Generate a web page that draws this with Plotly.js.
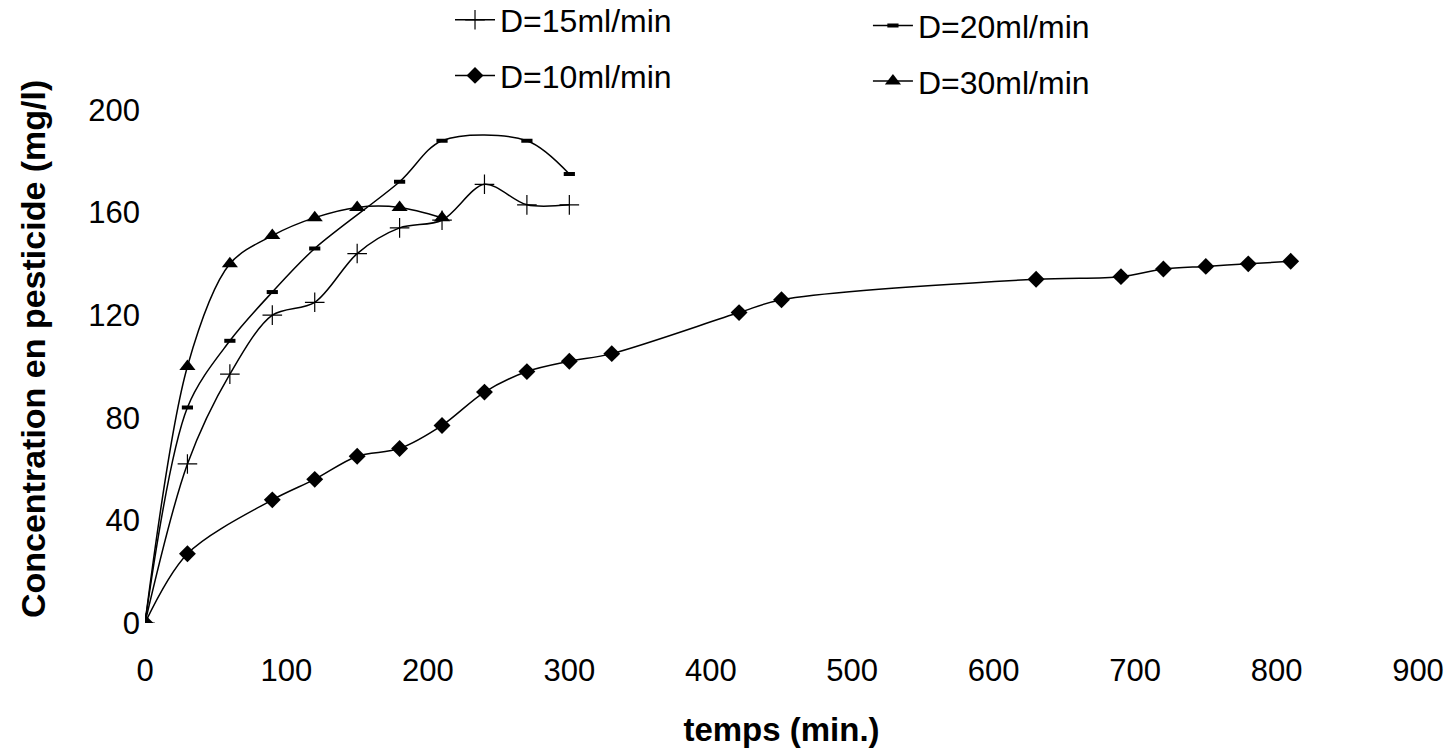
<!DOCTYPE html>
<html>
<head>
<meta charset="utf-8">
<script src="https://cdn.plot.ly/plotly-3.0.1.min.js"></script>
<style>
  html, body { margin: 0; padding: 0; background: #ffffff; }
  #chart { width: 1451px; height: 751px; }
</style>
</head>
<body>
<div id="chart"></div>
<script>
// Temps de prélèvement (min) et concentrations mesurées (mg/l) pour chaque débit
const t15 = [0, 30, 60, 90, 120, 150, 180, 210, 240, 270, 300];
const c15 = [0, 62, 97, 120, 125, 144, 154, 157, 171, 163, 163];

const t20 = [0, 30, 60, 90, 120, 180, 210, 270, 300];
const c20 = [0, 84, 110, 129, 146, 172, 188, 188, 175];

const t10 = [0, 30, 90, 120, 150, 180, 210, 240, 270, 300, 330, 420, 450, 630, 690, 720, 750, 780, 810];
const c10 = [0, 27, 48, 56, 65, 68, 77, 90, 98, 102, 105, 121, 126, 134, 135, 138, 139, 140, 141];

const t30 = [0, 30, 60, 90, 120, 150, 180, 210];
const c30 = [0, 100, 140, 151, 158, 162, 162, 158];

const names = ['D=15ml/min', 'D=20ml/min', 'D=10ml/min', 'D=30ml/min'];
const xTicks = [0, 100, 200, 300, 400, 500, 600, 700, 800, 900];
const yTicks = [0, 40, 80, 120, 160, 200];

const FONT = 'Liberation Sans, Arial, sans-serif';
const lineStyle = { color: '#000000', width: 1.5, shape: 'spline', smoothing: 0.9 };

const traces = [
  {
    x: t15, y: c15, name: names[0], mode: 'lines+markers',
    line: lineStyle, legend: 'legend', legendgroup: 'g15',
    marker: { symbol: 'cross-thin', size: 14, color: '#000', line: { color: '#000', width: 1.2 } }
  },
  {
    x: t20, y: c20, name: names[1], mode: 'lines+markers',
    line: lineStyle, legend: 'legend2', legendgroup: 'g20',
    marker: { symbol: 'line-ew', size: 8, color: '#000', line: { color: '#000', width: 4 } }
  },
  {
    x: t10, y: c10, name: names[2], mode: 'lines+markers',
    line: lineStyle, legend: 'legend', legendgroup: 'g10',
    marker: { symbol: 'diamond', size: 13, color: '#000' }
  },
  {
    x: t30, y: c30, name: names[3], mode: 'lines+markers',
    line: lineStyle, legend: 'legend2', legendgroup: 'g30',
    marker: { symbol: 'triangle-up', size: 14, color: '#000' }
  }
];

// Légendes sur deux colonnes, au-dessus du domaine de l'axe y
const legendCommon = {
  orientation: 'v',
  xanchor: 'left', yanchor: 'top',
  bgcolor: 'rgba(0,0,0,0)', borderwidth: 0,
  itemwidth: 40,
  tracegroupgap: 11,
  font: { family: FONT, size: 32, color: '#000' }
};

const layout = {
  width: 1451, height: 751,
  paper_bgcolor: '#ffffff', plot_bgcolor: '#ffffff',
  margin: { l: 145, r: 33, t: 0, b: 128, autoexpand: false },
  font: { family: FONT, color: '#000' },
  showlegend: true,
  legend: Object.assign({}, legendCommon, { x: 0.2396, y: 1.012 }),
  legend2: Object.assign({}, legendCommon, { x: 0.5679, y: 1.003 }),
  xaxis: {
    range: [0, 900], tickvals: xTicks, ticktext: xTicks.map(String),
    showgrid: false, zeroline: false, showline: false, ticks: '',
    ticklabelstandoff: 26,
    tickfont: { family: FONT, size: 31, color: '#000' },
    title: { text: 'temps (min.)', font: { family: FONT, size: 33, color: '#000', weight: 'bold' }, standoff: 30 }
  },
  yaxis: {
    domain: [0, 0.88],
    range: [0, 213.7], tickvals: yTicks, ticktext: yTicks.map(String),
    showgrid: false, zeroline: false, showline: false, ticks: '',
    ticklabelstandoff: 4,
    tickfont: { family: FONT, size: 31, color: '#000' },
    title: { text: 'Concentration en pesticide (mg/l)', font: { family: FONT, size: 34, color: '#000', weight: 'bold' }, standoff: 32 }
  }
};

Plotly.newPlot('chart', traces, layout, { staticPlot: true, displayModeBar: false });
</script>
</body>
</html>
